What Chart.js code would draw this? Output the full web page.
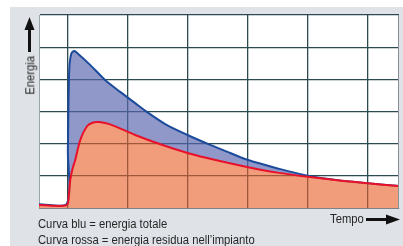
<!DOCTYPE html>
<html>
<head>
<meta charset="utf-8">
<script src="https://cdn.jsdelivr.net/npm/chart.js@4/dist/chart.umd.min.js"></script>
<style>
  body { margin: 0; background: #fff; }
  #wrap { position: relative; width: 403px; height: 246px; overflow: hidden; }
  #panel { position: absolute; left: 10px; top: 7px; width: 393px; height: 239px; background: #dfe3e8; }
  canvas { position: absolute; left: 0; top: 0; }
  .txt { position: absolute; font-family: "Liberation Sans", Arial, sans-serif; font-size: 12.5px; color: #262626; white-space: nowrap; line-height: 1; transform: scaleX(0.9); transform-origin: left center; }
  #energia { left: 9px; top: 69px; transform: rotate(-90deg) scaleX(0.9); transform-origin: center; }
</style>
</head>
<body>
<div id="wrap">
  <div id="panel"></div>
  <canvas id="energyChart" width="403" height="246"></canvas>
  <div class="txt" id="energia">Energia</div>
  <div class="txt" style="left:330px; top:213px;">Tempo</div>
  <div class="txt" style="left:38px; top:218px;">Curva blu = energia totale</div>
  <div class="txt" style="left:38px; top:234px;">Curva rossa = energia residua nell’impianto</div>
</div>
<script>
// time in grid units (0 = start of the event), energy in grid units
const blueTime = [-0.47, -0.01, 0.01, 0.033, 0.066, 0.116, 0.183, 0.38, 0.63, 0.88, 1.13, 1.33, 1.63, 2.0, 2.38, 2.71, 3.01, 3.5, 4.0, 4.5, 5.0, 5.52];
const blueEnergy = [0.12, 0.12, 1.8, 4.29, 4.79, 4.88, 4.79, 4.45, 3.98, 3.61, 3.26, 2.98, 2.61, 2.27, 1.96, 1.71, 1.49, 1.23, 1.0, 0.86, 0.77, 0.68];
const redTime = [-0.47, -0.01, 0.025, 0.05, 0.091, 0.133, 0.216, 0.332, 0.432, 0.532, 0.714, 1.13, 1.55, 2.0, 2.54, 3.01, 3.5, 4.0, 4.5, 5.0, 5.52];
const redEnergy = [0.09, 0.09, 0.4, 0.87, 1.24, 1.49, 2.11, 2.55, 2.66, 2.67, 2.6, 2.27, 1.98, 1.71, 1.46, 1.27, 1.1, 0.97, 0.86, 0.77, 0.68];
const timeTicks = [0, 1, 2, 3, 4, 5];

const toPoints = (xs, ys) => xs.map((x, i) => ({ x: x, y: ys[i] }));

// white plot area, arrows next to the axis names, right frame edge
const extras = {
    id: 'extras',
    beforeDraw(chart) {
        const c = chart.ctx, a = chart.chartArea;
        c.save();
        c.fillStyle = '#fff';
        c.fillRect(a.left, a.top, a.right - a.left, a.bottom - a.top);
        c.restore();
    },
    afterDraw(chart) {
        const c = chart.ctx, a = chart.chartArea;
        c.save();
        c.strokeStyle = '#8a8f94';
        c.lineWidth = 1;
        c.beginPath();
        c.moveTo(a.right - 0.5, a.top);
        c.lineTo(a.right - 0.5, a.bottom);
        c.stroke();

        c.fillStyle = '#111';
        // up arrow
        c.fillRect(28, 28, 3, 24);
        c.beginPath();
        c.moveTo(29.5, 17); c.lineTo(34.5, 30); c.lineTo(24.5, 30); c.closePath();
        c.fill();
        // right arrow
        c.fillRect(366, 218, 22, 3);
        c.beginPath();
        c.moveTo(400, 219.5); c.lineTo(386, 214.5); c.lineTo(386, 224.5); c.closePath();
        c.fill();
        c.restore();
    }
};

new Chart(document.getElementById('energyChart').getContext('2d'), {
    type: 'line',
    data: {
        datasets: [{
            label: 'energia residua',
            data: toPoints(redTime, redEnergy),
            borderColor: '#e8102a',
            borderWidth: 2,
            backgroundColor: 'rgba(232,97,44,0.62)',
            fill: 'origin',
            tension: 0.3,
            pointRadius: 0,
            order: 1
        }, {
            label: 'energia totale',
            data: toPoints(blueTime, blueEnergy),
            borderColor: '#1c4b9c',
            borderWidth: 2,
            backgroundColor: 'rgba(88,101,173,0.67)',
            fill: 0,
            tension: 0.3,
            pointRadius: 0,
            order: 2
        }]
    },
    options: {
        responsive: false,
        animation: false,
        layout: { padding: { left: 39, top: 15, right: 4, bottom: 38 } },
        plugins: { legend: { display: false }, tooltip: { enabled: false } },
        scales: {
            x: {
                type: 'linear',
                min: -0.47,
                max: 5.52,
                afterBuildTicks: s => { s.ticks = timeTicks.map(v => ({ value: v })); },
                ticks: { display: false },
                grid: { color: '#2b4a52', lineWidth: 1.3, drawTicks: false },
                border: { color: '#7d8286', width: 1 }
            },
            y: {
                min: 0,
                max: 6,
                ticks: { display: false, stepSize: 1 },
                grid: { color: ctx => ctx.tick.value === 0 ? 'rgba(0,0,0,0)' : '#2b4a52', lineWidth: 1.3, drawTicks: false },
                border: { color: '#9aa4ab', width: 1 }
            }
        }
    },
    plugins: [extras]
});
</script>
</body>
</html>
